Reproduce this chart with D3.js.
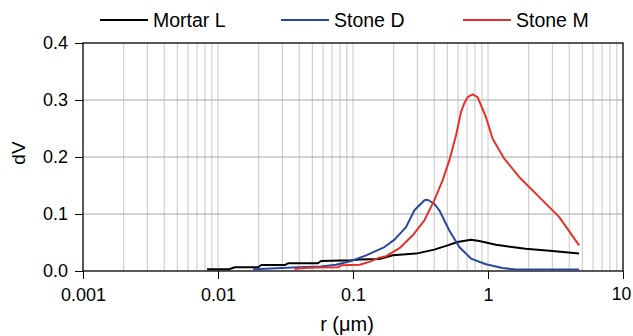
<!DOCTYPE html>
<html>
<head>
<meta charset="utf-8">
<script src="https://cdn.jsdelivr.net/npm/d3@7"></script>
<style>
  body { margin: 0; background: #fff; }
  svg { font-family: "Liberation Sans", Arial, sans-serif; }
</style>
</head>
<body>
<svg id="chart" width="633" height="336"></svg>
<script>
// series: r in µm, dV
const mortarR = [0.0083, 0.0121, 0.0133, 0.0198, 0.0209, 0.0312, 0.033, 0.055, 0.058, 0.097, 0.112, 0.157, 0.197, 0.293, 0.40, 0.489, 0.596, 0.748, 0.861, 1.145, 1.90, 3.0, 4.73];
const mortarV = [0.003, 0.003, 0.0065, 0.0065, 0.0105, 0.0105, 0.0135, 0.0135, 0.0175, 0.019, 0.02, 0.021, 0.0275, 0.0305, 0.0375, 0.044, 0.051, 0.055, 0.0527, 0.046, 0.039, 0.035, 0.0305];

const stoneDR = [0.0182, 0.0295, 0.039, 0.058, 0.075, 0.097, 0.125, 0.157, 0.171, 0.203, 0.247, 0.285, 0.338, 0.357, 0.40, 0.436, 0.517, 0.613, 0.748, 0.966, 1.28, 1.61, 4.73];
const stoneDV = [0.003, 0.0053, 0.0065, 0.008, 0.011, 0.0175, 0.0275, 0.038, 0.042, 0.055, 0.077, 0.1065, 0.124, 0.125, 0.118, 0.1065, 0.071, 0.042, 0.0218, 0.0118, 0.0053, 0.0025, 0.0025];

const stoneMR = [0.0369, 0.040, 0.055, 0.077, 0.082, 0.112, 0.132, 0.157, 0.176, 0.221, 0.277, 0.338, 0.40, 0.461, 0.517, 0.580, 0.631, 0.667, 0.706, 0.769, 0.837, 0.966, 1.082, 1.32, 1.70, 2.39, 3.36, 4.73];
const stoneMV = [0.003, 0.0047, 0.006, 0.0065, 0.010, 0.011, 0.016, 0.0235, 0.026, 0.040, 0.0626, 0.089, 0.124, 0.159, 0.194, 0.238, 0.279, 0.294, 0.305, 0.310, 0.305, 0.270, 0.232, 0.197, 0.165, 0.130, 0.095, 0.045];

const seriesNames = ["Mortar L", "Stone D", "Stone M"];
const seriesColors = ["#000000", "#2c47a0", "#e8302a"];
const xTicks = [0.001, 0.01, 0.1, 1, 10];
const yTicks = [0, 0.1, 0.2, 0.3, 0.4];

const svg = d3.select("#chart");
const plotL = 83, plotR = 623, plotT = 43, plotB = 271;

const x = d3.scaleLog().domain([0.001, 10]).range([plotL, plotR]);
const y = d3.scaleLinear().domain([0, 0.4]).range([plotB, plotT]);

// minor vertical grid (2..9 in each decade plus decades)
const minor = [];
for (let e = -3; e < 1; e++) {
  for (let m = 1; m <= 9; m++) {
    const v = m * Math.pow(10, e);
    if (v > 0.001) minor.push(v);
  }
}
svg.append("g").selectAll("line")
  .data(minor)
  .enter().append("line")
  .attr("x1", d => x(d)).attr("x2", d => x(d))
  .attr("y1", plotT).attr("y2", plotB)
  .attr("stroke", "#d0d0d0").attr("stroke-width", 1.2);

// horizontal grid
svg.append("g").selectAll("line")
  .data(yTicks.slice(1, -1))
  .enter().append("line")
  .attr("x1", plotL).attr("x2", plotR)
  .attr("y1", d => y(d)).attr("y2", d => y(d))
  .attr("stroke", "#a8a8a8").attr("stroke-width", 1.2);

// frame
svg.append("rect")
  .attr("x", plotL).attr("y", plotT)
  .attr("width", plotR - plotL).attr("height", plotB - plotT)
  .attr("fill", "none").attr("stroke", "#000").attr("stroke-width", 1.3);

// axes
const xAxis = svg.append("g")
  .attr("transform", "translate(0," + plotB + ")")
  .call(d3.axisBottom(x).tickValues(xTicks).tickSize(8).tickPadding(9)
    .tickFormat(d => d3.format("~g")(d)));
xAxis.select(".domain").remove();
xAxis.selectAll("text").attr("font-size", 18).attr("fill", "#000");
// keep the last label inside the window
xAxis.selectAll("text").filter(d => d === 10).attr("dx", -2).attr("font-size", 17.5);

const yAxis = svg.append("g")
  .attr("transform", "translate(" + plotL + ",0)")
  .call(d3.axisLeft(y).tickValues(yTicks).tickSize(8).tickPadding(7)
    .tickFormat(d3.format(".1f")));
yAxis.select(".domain").remove();
yAxis.selectAll("text").attr("font-size", 18).attr("fill", "#000");

// lines
const line = d3.line()
  .x(d => x(d[0]))
  .y(d => y(d[1]));

const series = [
  d3.zip(mortarR, mortarV),
  d3.zip(stoneDR, stoneDV),
  d3.zip(stoneMR, stoneMV)
];

svg.append("g").selectAll("path")
  .data(series)
  .enter().append("path")
  .attr("d", line)
  .attr("fill", "none")
  .attr("stroke", (d, i) => seriesColors[i])
  .attr("stroke-width", 2)
  .attr("stroke-linejoin", "round");

// legend
const legendX = [100, 281, 463];
const legend = svg.append("g").selectAll("g")
  .data(seriesNames)
  .enter().append("g")
  .attr("transform", (d, i) => "translate(" + legendX[i] + ",20)");
legend.append("line")
  .attr("x1", 0).attr("x2", 48)
  .attr("stroke", (d, i) => seriesColors[i]).attr("stroke-width", 2);
legend.append("text")
  .attr("x", 53).attr("y", 7)
  .attr("font-size", 19.5)
  .text(d => d);

// axis titles
svg.append("text")
  .attr("x", 347).attr("y", 331)
  .attr("text-anchor", "middle").attr("font-size", 20)
  .text("r (\u03bcm)");
svg.append("text")
  .attr("transform", "translate(25,153) rotate(-90)")
  .attr("text-anchor", "middle").attr("font-size", 19)
  .text("dV");
</script>
</body>
</html>
